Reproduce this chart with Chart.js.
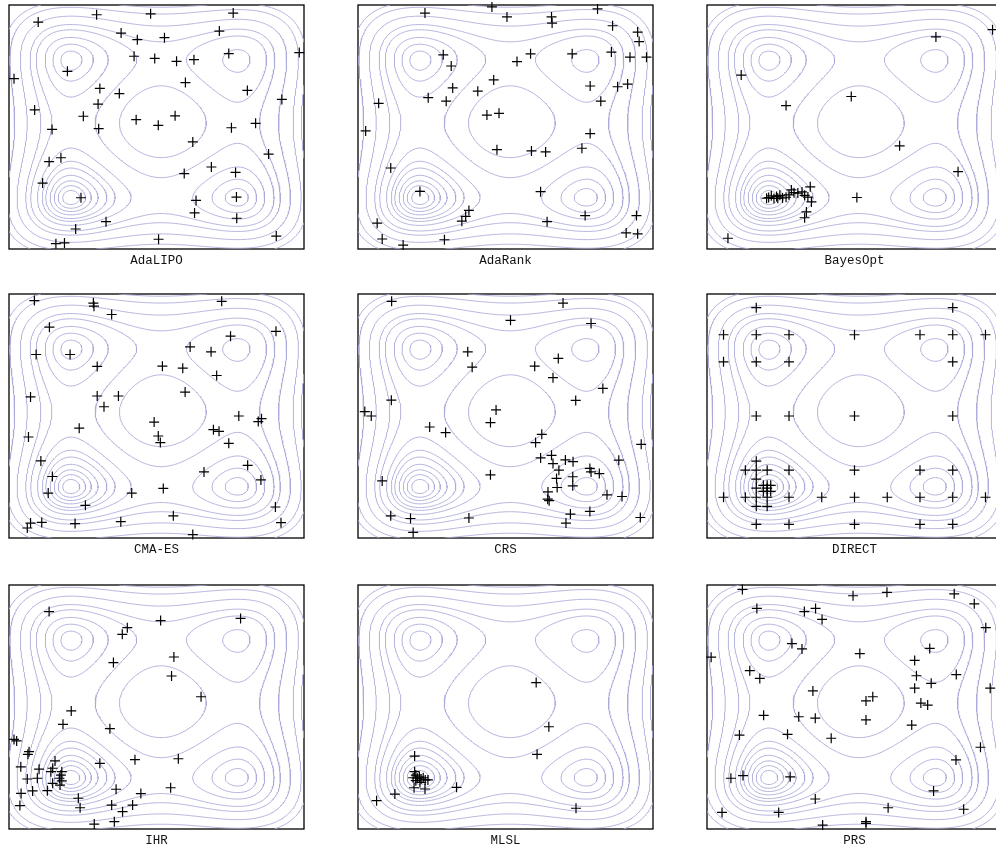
<!DOCTYPE html>
<html>
<head>
<meta charset="utf-8">
<script src="https://cdn.jsdelivr.net/npm/chart.js@4.4.0/dist/chart.umd.min.js"></script>
<style>
  html, body { margin: 0; padding: 0; background: #fff; width: 996px; height: 849px; overflow: hidden; }
  canvas { position: absolute; }
</style>
</head>
<body>
<script>
// contour levels of the Styblinski-Tang function
const levels = [-76.9, -74.7, -71.8, -67.8, -62, -56.5, -47, -30.2, -14.3, 20, 70, 110];

const titles = ['AdaLIPO', 'AdaRank', 'BayesOpt', 'CMA-ES', 'CRS', 'DIRECT', 'IHR', 'MLSL', 'PRS'];

// evaluated points of each optimizer, [x, y] in [-5, 5]^2
const adalipo = [[-4.01,4.30],[-2.03,4.60],[-0.20,4.64],[2.60,4.67],[-1.20,3.85],[-0.65,3.58],[0.27,3.66],[2.13,3.93],
  [4.84,3.05],[-0.76,2.90],[-0.06,2.81],[0.68,2.69],[1.27,2.76],[2.45,3.01],[-3.02,2.28],[-4.83,1.98],[0.98,1.82],
  [3.08,1.50],[-1.92,1.58],[-1.26,1.37],[4.25,1.13],[-1.98,0.94],[-4.13,0.70],[-2.48,0.44],[-0.69,0.30],[0.06,0.07],
  [0.63,0.46],[-3.54,-0.10],[-1.96,-0.07],[2.54,-0.03],[3.36,0.15],[1.23,-0.61],[3.80,-1.11],[-3.64,-1.42],[-3.24,-1.26],
  [1.86,-1.64],[0.94,-1.91],[2.68,-1.86],[-3.86,-2.30],[-2.56,-2.90],[2.71,-2.87],[1.34,-3.01],[1.29,-3.52],[2.72,-3.74],
  [-1.71,-3.88],[-2.74,-4.18],[0.07,-4.60],[4.06,-4.47],[-3.41,-4.78],[-3.12,-4.75]];

const adarank = [[-2.73,4.67],[-0.46,4.92],[0.05,4.51],[1.56,4.51],[1.58,4.26],[3.12,4.84],[3.63,4.15],[4.48,3.89],
  [4.53,3.50],[-2.11,2.96],[-1.84,2.50],[0.85,3.00],[0.39,2.68],[2.26,3.00],[3.59,3.07],[4.22,2.86],[4.78,2.86],
  [-0.40,1.93],[-1.79,1.60],[-0.94,1.47],[-2.62,1.20],[-2.01,1.06],[2.87,1.68],[3.80,1.65],[4.14,1.76],[3.23,1.06],
  [-4.30,0.97],[-0.63,0.49],[-0.22,0.56],[-4.74,-0.16],[2.87,-0.27],[-0.29,-0.93],[0.88,-0.98],[1.36,-1.02],[2.59,-0.87],
  [-3.89,-1.68],[-2.90,-2.64],[1.19,-2.65],[-1.24,-3.42],[-1.35,-3.66],[-1.48,-3.86],[2.70,-3.63],[4.44,-3.63],
  [1.41,-3.88],[-4.35,-3.94],[-4.18,-4.59],[-2.07,-4.62],[-3.47,-4.84],[4.09,-4.34],[4.48,-4.38]];

const bayesopt = [[4.68,3.99],[2.76,3.69],[-3.84,2.13],[-2.32,0.88],[-0.11,1.25],[1.53,-0.77],[3.51,-1.83],[0.08,-2.89],
  [-4.29,-4.56],[-2.91,-2.89],[-2.82,-2.82],[-2.73,-2.93],[-2.64,-2.85],[-2.53,-2.80],[-2.44,-2.91],[-2.32,-2.88],
  [-2.14,-2.58],[-2.05,-2.69],[-1.92,-2.71],[-1.78,-2.66],[-1.69,-2.80],[-1.58,-2.87],[-1.50,-2.45],[-1.46,-3.07],
  [-1.63,-3.48],[-1.69,-3.72],[-2.98,-2.92],[-2.60,-2.92],[-2.22,-2.78]];

const cmaes = [[-4.14,4.73],[-2.14,4.63],[-2.12,4.50],[2.21,4.70],[-1.52,4.16],[-3.63,3.64],[4.05,3.47],[2.51,3.27],
  [1.14,2.83],[1.85,2.63],[-2.93,2.52],[-4.08,2.52],[-2.01,2.03],[0.20,2.04],[0.89,1.96],[2.04,1.66],[0.97,0.98],
  [-4.27,0.78],[-2.01,0.82],[-1.29,0.82],[-1.78,0.38],[2.79,0.00],[3.45,-0.23],[3.56,-0.11],[-0.08,-0.25],[-2.62,-0.50],
  [1.93,-0.56],[2.12,-0.63],[-4.34,-0.86],[0.06,-0.82],[0.13,-1.09],[2.45,-1.12],[-3.92,-1.84],[3.09,-2.02],[1.61,-2.29],
  [-3.53,-2.48],[3.54,-2.62],[0.23,-2.97],[-3.67,-3.16],[-0.84,-3.16],[-2.41,-3.66],[4.03,-3.73],[0.57,-4.09],
  [4.22,-4.37],[-4.27,-4.39],[-3.89,-4.36],[-2.76,-4.41],[-1.21,-4.33],[-4.38,-4.59],[1.23,-4.86]];

const crs = [[-3.86,4.70],[1.95,4.63],[0.17,3.92],[2.90,3.79],[-1.28,2.63],[-1.13,2.00],[1.79,2.36],[0.99,2.04],
  [1.61,1.57],[3.30,1.13],[2.38,0.64],[-3.87,0.65],[-4.77,0.18],[-4.55,0.00],[-0.32,0.25],[-0.51,-0.27],[-2.57,-0.45],
  [-2.03,-0.68],[1.23,-0.75],[1.02,-1.09],[4.60,-1.16],[1.19,-1.72],[1.56,-1.61],[1.61,-1.95],[2.03,-1.80],[2.29,-1.87],
  [3.84,-1.81],[1.81,-2.22],[2.86,-2.15],[2.90,-2.29],[3.18,-2.36],[2.28,-2.49],[1.73,-2.56],[-4.18,-2.66],[-0.51,-2.41],
  [2.28,-2.86],[1.75,-2.93],[1.44,-3.11],[1.43,-3.41],[1.48,-3.47],[3.44,-3.23],[3.95,-3.30],[2.86,-3.91],[2.20,-4.02],
  [2.05,-4.39],[-3.89,-4.09],[-3.22,-4.20],[-1.24,-4.18],[4.57,-4.16],[-3.13,-4.77]];

const direct = [[-3.33,4.44],[3.33,4.44],
  [-4.44,3.33],[-3.33,3.33],[-2.22,3.33],[0,3.33],[2.22,3.33],[3.33,3.33],[4.44,3.33],
  [-4.44,2.22],[-3.33,2.22],[-2.22,2.22],[3.33,2.22],
  [-3.33,0],[-2.22,0],[0,0],[3.33,0],
  [-3.33,-1.85],
  [-3.70,-2.22],[-3.33,-2.22],[-2.96,-2.22],[-2.22,-2.22],[0,-2.22],[2.22,-2.22],[3.33,-2.22],
  [-3.33,-2.59],
  [-3.33,-2.96],[-2.96,-2.96],[-3.09,-2.84],[-2.84,-2.84],[-3.09,-3.09],[-2.84,-3.09],[-2.96,-2.84],[-2.96,-3.09],
  [-4.44,-3.33],[-3.70,-3.33],[-3.33,-3.33],[-2.96,-3.33],[-2.22,-3.33],[-1.11,-3.33],[0,-3.33],[1.11,-3.33],
  [2.22,-3.33],[3.33,-3.33],[4.44,-3.33],
  [-3.33,-3.70],[-2.96,-3.70],
  [-3.33,-4.44],[-2.22,-4.44],[0,-4.44],[2.22,-4.44],[3.33,-4.44]];

const ihr = [[-3.64,3.91],[0.14,3.54],[2.85,3.63],[-0.99,3.25],[-1.16,2.98],[0.59,2.05],[-1.46,1.82],[0.51,1.27],
  [1.51,0.42],[-2.89,-0.16],[-3.17,-0.71],[-1.58,-0.89],[-4.83,-1.33],[-4.74,-1.39],[-4.32,-1.83],[-4.36,-1.94],
  [-4.60,-2.45],[-1.92,-2.31],[-0.73,-2.16],[0.74,-2.12],[-3.44,-2.21],[-3.52,-2.51],[-3.98,-2.55],[-3.58,-2.65],
  [-3.21,-2.65],[-4.38,-2.95],[-4.04,-2.92],[-3.29,-2.92],[-3.21,-3.03],[-3.27,-3.20],[-3.52,-3.13],[-3.24,-2.79],
  [-4.59,-3.54],[-4.20,-3.44],[-3.70,-3.43],[-2.65,-3.74],[-2.59,-4.13],[-1.37,-3.37],[-0.53,-3.55],[-1.52,-4.02],
  [-0.81,-4.02],[-1.15,-4.29],[0.48,-3.31],[-4.63,-4.04],[-2.11,-4.80],[-1.43,-4.70]];

const mlsl = [[1.04,1.00],[1.47,-0.81],[1.07,-1.94],[-3.08,-2.01],[2.39,-4.15],[-4.37,-3.84],[-3.75,-3.57],
  [-1.66,-3.29],[-3.10,-3.31],[-2.73,-3.36],[-3.08,-2.65],[-3.04,-2.79],[-3.13,-2.90],[-2.99,-2.92],[-2.92,-2.86],
  [-2.86,-2.95],[-2.79,-2.90],[-2.72,-2.99],[-2.63,-2.99],[-3.04,-3.02],[-2.90,-3.09]];

const prs = [[-3.80,4.82],[-0.05,4.56],[1.10,4.70],[3.38,4.64],[4.06,4.23],[-3.31,4.04],[-1.70,3.91],[-1.32,4.04],
  [-1.10,3.59],[4.45,3.25],[-2.12,2.60],[-1.78,2.38],[2.55,2.40],[-4.86,2.04],[0.18,2.19],[2.04,1.91],[-3.55,1.49],
  [-3.21,1.17],[2.10,1.28],[3.45,1.33],[2.60,0.97],[2.04,0.77],[4.60,0.77],[-1.41,0.66],[0.62,0.42],[0.39,0.25],
  [2.25,0.16],[2.48,0.08],[-3.08,-0.34],[-1.89,-0.40],[-1.33,-0.46],[0.39,-0.53],[1.94,-0.74],[-3.90,-1.15],
  [-2.27,-1.12],[-0.79,-1.28],[4.27,-1.65],[3.44,-2.17],[-4.19,-2.92],[-3.78,-2.81],[-2.18,-2.86],[2.68,-3.44],
  [-1.33,-3.77],[1.14,-4.13],[3.70,-4.19],[-4.49,-4.32],[-2.57,-4.32],[0.39,-4.70],[0.39,-4.77],[-1.08,-4.84]];

const runs = [adalipo, adarank, bayesopt, cmaes, crs, direct, ihr, mlsl, prs];

// test function whose level sets are drawn behind the points
function styblinskiTang(x, y) {
  return 0.5 * (x ** 4 - 16 * x * x + 5 * x + y ** 4 - 16 * y * y + 5 * y);
}

const GRID = 200;
const Z = new Float64Array((GRID + 1) * (GRID + 1));
const gx = i => -5 + 10 * i / GRID;
for (let j = 0; j <= GRID; j++)
  for (let i = 0; i <= GRID; i++) Z[j * (GRID + 1) + i] = styblinskiTang(gx(i), gx(j));

// marching squares, segments chained into polylines separated by null points
function contour(level) {
  const val = (i, j) => Z[j * (GRID + 1) + i];
  const pts = new Map();
  const segs = [];
  const edge = (key, i1, j1, i2, j2) => {
    if (!pts.has(key)) {
      const v1 = val(i1, j1), v2 = val(i2, j2);
      const t = (level - v1) / (v2 - v1);
      pts.set(key, { x: gx(i1) + t * (gx(i2) - gx(i1)), y: gx(j1) + t * (gx(j2) - gx(j1)) });
    }
    return key;
  };
  for (let j = 0; j < GRID; j++) {
    for (let i = 0; i < GRID; i++) {
      const a = val(i, j), b = val(i + 1, j), c = val(i + 1, j + 1), d = val(i, j + 1);
      const e = [
        (a < level) !== (b < level) ? edge('h' + i + ',' + j, i, j, i + 1, j) : null,
        (b < level) !== (c < level) ? edge('v' + (i + 1) + ',' + j, i + 1, j, i + 1, j + 1) : null,
        (d < level) !== (c < level) ? edge('h' + i + ',' + (j + 1), i, j + 1, i + 1, j + 1) : null,
        (a < level) !== (d < level) ? edge('v' + i + ',' + j, i, j, i, j + 1) : null,
      ];
      const on = e.filter(k => k !== null);
      if (on.length === 2) segs.push(on);
      else if (on.length === 4) {
        if (((a + b + c + d) / 4 < level) === (a < level)) { segs.push([e[0], e[1]]); segs.push([e[2], e[3]]); }
        else { segs.push([e[3], e[0]]); segs.push([e[1], e[2]]); }
      }
    }
  }
  const adj = new Map();
  segs.forEach((s, n) => s.forEach(k => { if (!adj.has(k)) adj.set(k, []); adj.get(k).push(n); }));
  const used = new Uint8Array(segs.length);
  const out = [];
  for (let s = 0; s < segs.length; s++) {
    if (used[s]) continue;
    used[s] = 1;
    const line = [segs[s][0], segs[s][1]];
    for (const fwd of [true, false]) {
      for (;;) {
        const end = fwd ? line[line.length - 1] : line[0];
        const next = (adj.get(end) || []).find(n => !used[n]);
        if (next === undefined) break;
        used[next] = 1;
        const k = segs[next][0] === end ? segs[next][1] : segs[next][0];
        if (fwd) line.push(k); else line.unshift(k);
      }
    }
    line.forEach(k => out.push(pts.get(k)));
    out.push({ x: null, y: null });
  }
  return out;
}

const contourData = levels.map(contour);

// black frame round each plot area
const framePlugin = {
  id: 'frame',
  beforeDatasetsDraw(chart) {
    const { ctx, chartArea: a } = chart;
    ctx.save();
    ctx.strokeStyle = '#000';
    ctx.lineWidth = 1.3;
    ctx.strokeRect(a.left, a.top, a.right - a.left, a.bottom - a.top);
    ctx.restore();
  },
};

const colLeft = [9, 358, 707];
const rowTop = [5, 294, 585];
const boxW = 295, boxH = 244, pad = 8;

runs.forEach((run, n) => {
  const canvas = document.createElement('canvas');
  canvas.width = boxW + 2 * pad;
  canvas.height = boxH + pad + 20;
  canvas.style.left = (colLeft[n % 3] - pad) + 'px';
  canvas.style.top = (rowTop[Math.floor(n / 3)] - pad) + 'px';
  document.body.appendChild(canvas);

  const datasets = [{
    data: run.map(([x, y]) => ({ x, y })),
    pointStyle: 'cross',
    pointRadius: 5,
    borderColor: '#000',
    borderWidth: 1.2,
    clip: false,
  }];
  contourData.forEach(d => datasets.push({
    data: d.slice(),
    showLine: true,
    spanGaps: false,
    pointRadius: 0,
    borderColor: 'rgb(172,172,218)',
    borderWidth: 0.9,
  }));

  new Chart(canvas, {
    type: 'scatter',
    data: { datasets },
    options: {
      responsive: false,
      animation: false,
      events: [],
      layout: { padding: { left: pad, right: pad, top: pad, bottom: 0 } },
      scales: {
        x: { type: 'linear', min: -5, max: 5, display: false },
        y: { type: 'linear', min: -5, max: 5, display: false },
      },
      plugins: {
        legend: { display: false },
        tooltip: { enabled: false },
        title: {
          display: true,
          position: 'bottom',
          text: titles[n],
          color: '#111',
          font: { family: '"Liberation Mono", "DejaVu Sans Mono", monospace', size: 12.5, weight: 'normal', lineHeight: 1.2 },
          padding: { top: 4, bottom: 1 },
        },
      },
    },
    plugins: [framePlugin],
  });
});
</script>
</body>
</html>
